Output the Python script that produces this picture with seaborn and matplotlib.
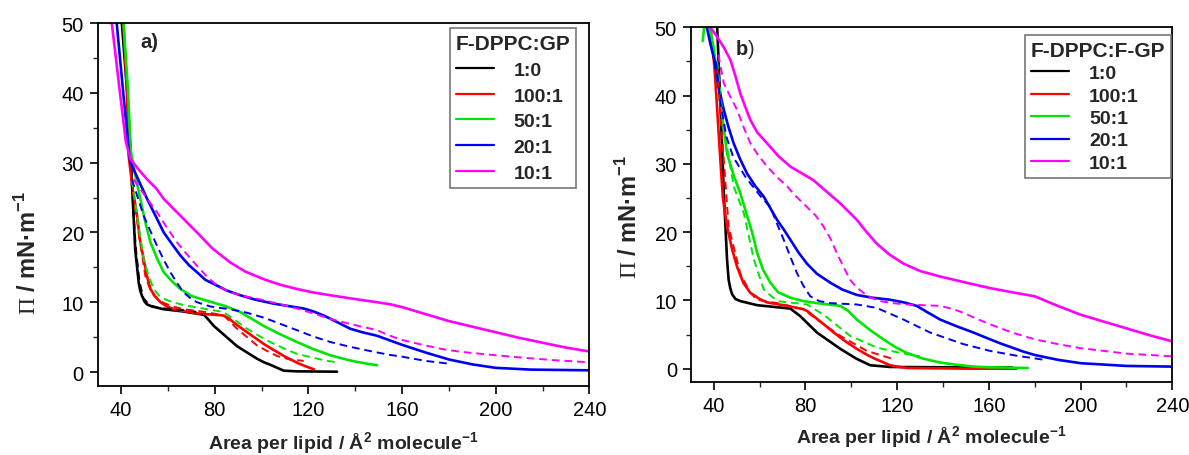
import numpy as np
import pandas as pd
import matplotlib
matplotlib.use('Agg')
import matplotlib.pyplot as plt
from matplotlib.lines import Line2D
from matplotlib.ticker import MultipleLocator
import seaborn as sns

# ---- data (x: area per lipid, y: surface pressure) ----
ratios = ['1:0', '100:1', '50:1', '20:1', '10:1']
colors = ['#000000', '#ff0000', '#00e600', '#0000f0', '#ff00ff']

# panel a) F-DPPC:GP
a_black_x = [40.3, 42.6, 44.0, 44.6, 46.0, 47.5, 48.2, 48.9, 50.0, 51.0, 53.0, 58.2, 66.0, 75.3, 76.5, 79.6, 82.0, 86.8, 89.5, 93.8, 98.1, 101.0, 104.0, 106.7, 109.4, 115.0, 132.2]
a_black_y = [50, 40, 32, 27.2, 17.6, 12.8, 11.6, 10.9, 10.1, 9.7, 9.4, 9.0, 8.7, 8.2, 7.8, 6.6, 5.9, 4.5, 3.7, 2.8, 1.9, 1.4, 1.0, 0.6, 0.2, 0.1, 0.05]
a_black_dash_x = [44.5, 46.2, 47.8, 49.5, 52.0, 56.0, 62.0, 70.0, 75.0]
a_black_dash_y = [27.0, 18.0, 13.0, 10.6, 9.6, 9.2, 9.0, 8.8, 8.3]

a_red_x = [41.0, 42.5, 43.2, 45.0, 46.8, 48.0, 49.6, 51.0, 52.5, 54.6, 56.8, 59.6, 62.5, 67.5, 72.4, 78.0, 83.8, 86.0, 88.1, 90.5, 93.0, 95.5, 98.1, 101.0, 104.0, 107.0, 109.5, 113.0, 116.0, 119.0, 122.3]
a_red_y = [50, 40, 31, 26, 22.4, 19.0, 16.2, 13.8, 11.9, 10.8, 10.0, 9.4, 9.0, 8.7, 8.4, 8.25, 8.1, 7.7, 7.1, 6.5, 5.9, 5.3, 4.7, 4.0, 3.4, 2.8, 2.3, 1.7, 1.2, 0.8, 0.4]
a_red_dash_x = [44.6, 47.5, 50.3, 52.0, 53.9, 56.0, 58.2, 62.0, 66.7, 76.0, 83.8, 86.6, 89.5, 93.8, 98.1, 102.4, 106.6, 112.0, 115.0, 118.0]
a_red_dash_y = [27.2, 20.0, 13.8, 12.2, 11.0, 10.4, 9.9, 9.4, 9.0, 8.6, 8.1, 7.2, 6.2, 5.0, 3.8, 3.0, 2.3, 1.8, 1.7, 1.6]

a_green_x = [41.0, 43.0, 44.0, 46.0, 48.2, 50.3, 52.5, 55.3, 58.2, 61.7, 65.3, 70.0, 76.7, 84.0, 90.9, 95.9, 100.9, 108.0, 115.1, 122.0, 129.4, 135.0, 140.0, 145.0, 149.3]
a_green_y = [50, 40, 31.9, 28.3, 24.8, 21.5, 18.6, 16.3, 14.3, 13.0, 11.9, 10.9, 10.2, 9.5, 8.6, 7.6, 6.6, 5.4, 4.3, 3.3, 2.4, 1.9, 1.5, 1.2, 0.97]
a_green_dash_x = [44.6, 46.8, 49.6, 51.7, 53.9, 56.0, 58.2, 62.0, 66.7, 75.0, 83.8, 88.8, 93.8, 98.8, 103.7, 109.4, 115.1, 124.0, 128.0, 132.2]
a_green_dash_y = [27.6, 22.4, 16.2, 13.8, 11.9, 11.0, 10.5, 10.0, 9.6, 9.1, 8.6, 7.4, 6.2, 5.2, 4.3, 3.4, 2.6, 1.9, 1.6, 1.4]

a_blue_x = [38.1, 40.9, 43.5, 44.0, 51.1, 58.2, 62.0, 65.3, 69.0, 72.4, 76.0, 80.9, 85.0, 90.9, 97.0, 105.1, 118.0, 122.0, 126.5, 132.0, 137.9, 143.0, 149.3, 155.0, 160.0, 170.0, 180.0, 190.0, 200.0, 215.0, 240.0]
a_blue_y = [50, 40, 31, 30, 24.8, 20.0, 18.2, 16.7, 15.3, 14.3, 13.2, 12.4, 11.7, 11.0, 10.4, 9.8, 9.1, 8.7, 8.1, 7.2, 6.2, 5.7, 5.2, 4.5, 3.9, 2.8, 1.8, 1.1, 0.6, 0.35, 0.25]
a_blue_dash_x = [44.6, 49.6, 52.5, 55.3, 58.0, 61.0, 64.0, 66.7, 69.5, 72.4, 78.0, 82.0, 86.6, 93.7, 100.9, 108.0, 115.1, 122.0, 129.4, 138.0, 147.9, 154.0, 160.0, 170.0, 180.0]
a_blue_dash_y = [27.6, 22.4, 20.2, 18.1, 16.2, 14.3, 12.7, 11.4, 10.6, 10.0, 9.4, 9.2, 9.0, 8.5, 7.8, 6.9, 6.0, 5.1, 4.3, 3.6, 2.9, 2.5, 2.2, 1.6, 1.2]

a_mag_x = [36.0, 39.5, 42.0, 44.0, 47.0, 51.1, 55.0, 58.2, 65.0, 72.4, 79.0, 86.6, 93.0, 100.9, 108.0, 115.1, 122.0, 129.4, 139.0, 149.3, 155.0, 160.0, 165.0, 170.0, 180.0, 190.0, 200.0, 210.0, 220.0, 230.0, 240.0]
a_mag_y = [50, 40, 33, 30.5, 29.2, 27.6, 26.3, 24.8, 22.5, 20.0, 17.7, 15.7, 14.4, 13.3, 12.5, 11.9, 11.4, 11.0, 10.5, 10.0, 9.7, 9.3, 8.8, 8.3, 7.3, 6.5, 5.7, 4.9, 4.2, 3.5, 2.95]
a_mag_dash_x = [45.3, 50.3, 55.3, 59.5, 63.8, 68.0, 72.4, 76.6, 80.9, 86.6, 93.7, 100.9, 108.0, 115.1, 122.0, 129.4, 139.0, 149.3, 154.0, 160.0, 170.0, 177.0, 185.0, 197.0, 210.0, 225.0, 240.0]
a_mag_dash_y = [27.6, 25.2, 22.9, 20.7, 18.6, 16.9, 15.2, 13.7, 12.4, 11.4, 10.8, 10.3, 9.7, 9.1, 8.4, 7.6, 6.8, 6.0, 5.3, 4.6, 3.8, 3.3, 2.9, 2.5, 2.1, 1.7, 1.4]

# panel b) F-DPPC:F-GP
b_black_x = [41.5, 43.3, 44.4, 45.8, 46.5, 47.2, 48.0, 49.5, 51.6, 58.9, 73.4, 77.7, 85.0, 95.2, 102.0, 108.2, 116.9, 140.0, 170.0]
b_black_y = [50, 35.4, 25.7, 16.0, 13.0, 11.8, 10.9, 10.2, 9.9, 9.3, 8.8, 7.7, 5.3, 2.9, 1.5, 0.5, 0.25, 0.2, 0.2]

b_red_x = [38.6, 40.3, 41.5, 42.9, 44.0, 45.8, 48.0, 50.2, 53.0, 56.0, 60.0, 63.3, 72.0, 79.2, 81.0, 83.5, 88.0, 92.3, 97.0, 102.4, 107.0, 110.0, 116.9, 120.0, 124.2, 150.0, 172.0]
b_red_y = [50, 44.2, 38.0, 30.5, 25.0, 20.8, 17.5, 14.9, 12.5, 11.1, 10.2, 9.7, 9.2, 8.7, 8.4, 7.7, 6.5, 5.3, 4.1, 2.9, 2.0, 1.5, 0.5, 0.3, 0.1, 0.0, 0.0]
b_red_dash_x = [41.5, 44.4, 46.5, 51.6, 56.0, 58.9, 67.6, 79.2, 85.0, 95.2, 106.8, 118.3]
b_red_dash_y = [44.0, 30.5, 20.8, 13.9, 11.1, 10.1, 9.6, 8.7, 7.2, 4.8, 2.6, 1.4]

b_green_x = [35.2, 35.8, 37.0, 40.0, 42.9, 45.8, 49.0, 51.6, 54.0, 56.0, 57.5, 58.9, 61.5, 64.7, 68.0, 73.4, 79.0, 85.0, 90.0, 95.2, 98.5, 102.4, 108.0, 114.0, 119.0, 124.2, 131.0, 138.7, 145.0, 153.2, 160.5, 177.0]
b_green_y = [48.0, 50.0, 52.0, 47.0, 39.1, 31.5, 28.0, 25.7, 23.0, 20.8, 19.0, 17.0, 14.5, 12.6, 11.2, 10.4, 9.9, 9.6, 9.4, 9.2, 8.5, 7.2, 5.7, 4.3, 3.2, 2.3, 1.5, 0.9, 0.6, 0.3, 0.2, 0.1]
b_green_dash_x = [41.5, 44.4, 48.7, 53.1, 57.5, 61.8, 67.6, 80.6, 87.9, 99.5, 111.1, 120.0, 130.0]
b_green_dash_y = [45.0, 35.4, 26.7, 22.8, 16.0, 11.6, 9.9, 9.4, 7.9, 4.8, 3.1, 2.4, 1.8]

b_blue_x = [37.0, 38.6, 40.3, 42.0, 44.4, 46.5, 48.7, 51.5, 54.5, 58.0, 61.8, 64.7, 67.6, 70.5, 73.4, 77.0, 80.6, 85.0, 90.8, 96.0, 102.4, 109.0, 116.9, 123.0, 128.5, 133.0, 138.7, 146.0, 153.2, 160.5, 165.0, 170.0, 175.0, 180.0, 190.0, 200.0, 220.0, 240.0]
b_blue_y = [50, 47.5, 45.2, 41.5, 37.9, 35.3, 33.0, 30.7, 28.6, 26.8, 25.2, 23.5, 21.8, 20.4, 18.9, 17.0, 15.4, 13.9, 12.6, 11.6, 10.8, 10.4, 10.1, 9.7, 9.2, 8.3, 7.2, 6.2, 5.3, 4.3, 3.7, 3.1, 2.5, 2.0, 1.3, 0.8, 0.4, 0.3]
b_blue_dash_x = [41.0, 42.9, 45.5, 48.5, 54.0, 61.0, 64.7, 67.5, 70.5, 73.4, 76.3, 79.0, 82.1, 86.0, 90.8, 102.4, 111.1, 122.7, 134.3, 148.8, 160.5, 172.0, 184.0]
b_blue_dash_y = [45.0, 39.1, 34.0, 31.0, 28.0, 25.0, 23.7, 21.3, 18.9, 16.4, 14.0, 12.2, 10.6, 9.9, 9.6, 9.4, 8.9, 7.2, 5.3, 3.6, 2.6, 1.9, 1.3]

b_mag_x = [38.5, 41.5, 44.5, 47.3, 49.5, 51.6, 53.8, 56.0, 59.0, 63.3, 68.0, 73.4, 78.0, 83.5, 89.0, 95.2, 98.8, 102.4, 106.7, 111.1, 116.7, 122.7, 130.0, 138.7, 150.0, 160.5, 170.0, 180.0, 190.0, 200.0, 210.0, 220.0, 230.0, 240.0]
b_mag_y = [50, 48.6, 47.0, 45.2, 42.8, 40.3, 38.3, 36.4, 34.6, 33.0, 31.2, 29.6, 28.7, 27.6, 26.0, 24.2, 23.0, 21.8, 20.0, 18.3, 16.7, 15.4, 14.3, 13.5, 12.6, 11.8, 11.2, 10.6, 9.2, 7.9, 6.9, 5.9, 4.9, 4.0]
b_mag_dash_x = [42.0, 44.4, 47.0, 50.2, 53.0, 56.0, 59.5, 63.3, 67.5, 72.0, 76.0, 80.6, 84.5, 87.9, 91.0, 93.7, 96.6, 99.5, 102.4, 105.3, 108.5, 112.5, 118.0, 124.2, 131.0, 138.7, 143.5, 148.8, 154.0, 160.5, 170.0, 180.0, 190.0, 200.0, 210.0, 220.0, 230.0, 240.0]
b_mag_dash_y = [46.0, 41.8, 40.0, 37.9, 35.4, 33.0, 31.2, 29.6, 28.1, 26.7, 25.2, 23.7, 22.4, 20.8, 19.0, 16.9, 14.9, 13.0, 11.9, 11.1, 10.4, 9.9, 9.6, 9.4, 9.3, 9.2, 8.8, 8.2, 7.4, 6.5, 5.3, 4.3, 3.6, 3.0, 2.6, 2.2, 2.0, 1.8]

panel_a_solid = [(a_black_x, a_black_y), (a_red_x, a_red_y), (a_green_x, a_green_y), (a_blue_x, a_blue_y), (a_mag_x, a_mag_y)]
panel_a_dash = [(a_black_dash_x, a_black_dash_y), (a_red_dash_x, a_red_dash_y), (a_green_dash_x, a_green_dash_y),
                (a_blue_dash_x, a_blue_dash_y), (a_mag_dash_x, a_mag_dash_y)]
panel_b_solid = [(b_black_x, b_black_y), (b_red_x, b_red_y), (b_green_x, b_green_y), (b_blue_x, b_blue_y), (b_mag_x, b_mag_y)]
panel_b_dash = [None, (b_red_dash_x, b_red_dash_y), (b_green_dash_x, b_green_dash_y),
                (b_blue_dash_x, b_blue_dash_y), (b_mag_dash_x, b_mag_dash_y)]

sns.set_style('ticks')
plt.rcParams['font.family'] = ['Liberation Sans', 'DejaVu Sans']
plt.rcParams['mathtext.fontset'] = 'custom'
plt.rcParams['mathtext.rm'] = 'Liberation Sans:bold'
plt.rcParams['mathtext.bf'] = 'Liberation Sans:bold'
plt.rcParams['mathtext.sf'] = 'Liberation Serif'

fig = plt.figure(figsize=(11.89, 4.56), dpi=100)
ax_a = fig.add_axes([0.0822, 0.1513, 0.4135, 0.796])
ax_b = fig.add_axes([0.581, 0.1594, 0.405, 0.7785])


def draw_panel(ax, solid, dashed, title, tag, legend_xy, leg_space, ylab_xy, xlab_y):
    for (xs, ys), c in zip(solid, colors):
        sns.lineplot(x=xs, y=ys, ax=ax, color=c, lw=1.9, sort=False, estimator=None)
    for d, c in zip(dashed, colors):
        if d is None:
            continue
        sns.lineplot(x=d[0], y=d[1], ax=ax, color=c, lw=1.4, sort=False, estimator=None,
                     linestyle=(0, (4, 2.5)))
    ax.set_xlim(30, 240)
    ax.set_ylim(-2, 50)
    ax.xaxis.set_major_locator(MultipleLocator(40))
    ax.xaxis.set_minor_locator(MultipleLocator(20))
    ax.yaxis.set_major_locator(MultipleLocator(10))
    ax.yaxis.set_minor_locator(MultipleLocator(5))
    ax.tick_params(which='major', direction='out', length=6, width=1.2, labelsize=14.5, pad=4, colors='black')
    ax.tick_params(which='minor', direction='out', length=3.5, width=1.0)
    ax.set_xticks([40, 80, 120, 160, 200, 240])
    for sp in ax.spines.values():
        sp.set_visible(True)
        sp.set_linewidth(1.3)
        sp.set_color('black')
    ax.set_xlabel('Area per lipid / Å$^2$ molecule$^{-1}$', fontsize=14, fontweight='bold')
    ax.set_ylabel(r'$\mathsf{\Pi}$ / mN·m$^{-1}$', fontsize=17, fontweight='bold')
    ax.yaxis.set_label_coords(*ylab_xy)
    ax.xaxis.set_label_coords(0.5, xlab_y)
    ax.text(tag[1], tag[2], tag[0], transform=ax.transAxes, fontsize=14.5, fontweight=tag[3],
            ha='left', va='center')
    handles = [Line2D([], [], color=c, lw=1.6) for c in colors]
    leg = ax.legend(handles, ratios, title=title, loc='upper right', bbox_to_anchor=legend_xy,
                    borderaxespad=0, frameon=True, fancybox=False, framealpha=1,
                    edgecolor='#777777', prop={'weight': 'bold', 'size': 14},
                    title_fontproperties={'weight': 'bold', 'size': 15},
                    labelspacing=leg_space, handlelength=2.0, handletextpad=1.0,
                    borderpad=0.3, alignment='left')
    leg.get_frame().set_linewidth(1.2)


draw_panel(ax_a, panel_a_solid, panel_a_dash, 'F-DPPC:GP', ('a)', 0.086, 0.948, 'bold'),
           (0.973, 0.986), 0.42, (-0.116, 0.37), -0.12)
draw_panel(ax_b, panel_b_solid, panel_b_dash, 'F-DPPC:F-GP', (r'$\mathbf{b}$)', 0.092, 0.939, 'normal'),
           (0.997, 0.979), 0.25, (-0.101, 0.47), -0.115)

fig.savefig('out.png', dpi=100)
